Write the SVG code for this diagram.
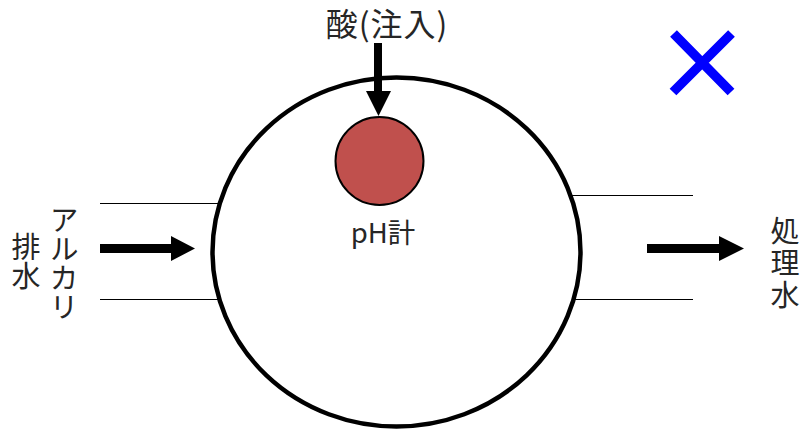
<svg xmlns="http://www.w3.org/2000/svg" width="806" height="430" viewBox="0 0 806 430">
<style>
text{font-family:"Noto Sans CJK JP","Noto Sans",sans-serif;fill:#262626}
.h{text-anchor:middle}
.v{writing-mode:vertical-rl;text-anchor:start;font-size:29px}
.pipe{stroke:#000;stroke-width:1.2;fill:none}
.arrow{fill:#000}
</style>
<rect width="806" height="430" fill="#fff"/>
<g id="connectors">
<path class="pipe" d="M100 203.500H220M100 299.500H220M570 195.500H693M575 299.500H693"/>
</g>
<g id="tank"><ellipse cx="396.500" cy="252" rx="184" ry="174.500" fill="#fff" stroke="#000" stroke-width="4.500"/></g>
<g id="arrows">
<path class="arrow" d="M374 43H382V91H391L378.500 116L366 91H374Z"/>
<path class="arrow" d="M100 244H171V236L195 248.500L171 261V253H100Z"/>
<path class="arrow" d="M647 244H719V236L744 248.500L719 261V253H647Z"/>
</g>
<g id="ph-meter">
<circle cx="379.500" cy="161" r="44" fill="#c0504d" stroke="#000" stroke-width="2"/>
<text class="h" x="383" y="243" style="font-size:27.500px">pH計</text>
</g>
<g id="acid"><text class="h" x="387" y="36" style="font-size:32px;letter-spacing:1px">酸(注入)</text></g>
<g id="alkali"><text class="v" x="64" y="205" style="letter-spacing:0.200px">アルカリ</text>
<text class="v" x="26" y="232" style="letter-spacing:0.500px">排水</text></g>
<g id="treated"><text class="v" x="785" y="216" style="letter-spacing:3px">処理水</text></g>
<g id="cross"><path d="M673.500 33.500L731 92M731.500 33.500L673 92" stroke="#0000ff" stroke-width="9.500" fill="none"/></g>
</svg>
